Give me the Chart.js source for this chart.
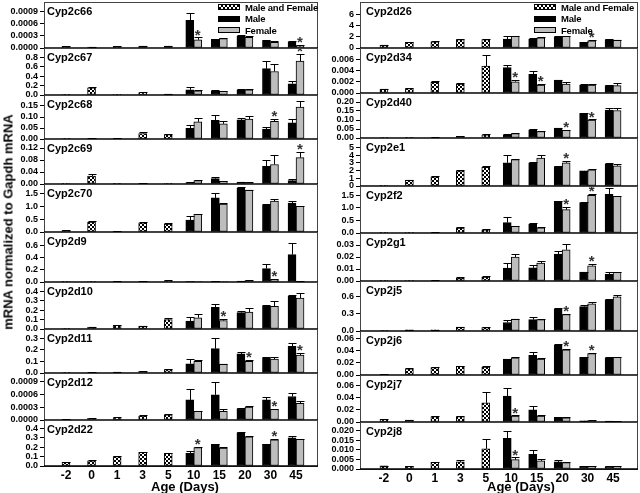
<!DOCTYPE html>
<html>
<head>
<meta charset="utf-8">
<script src="https://cdn.jsdelivr.net/npm/chart.js@4.4.0/dist/chart.umd.min.js"></script>
<style>
  body { margin: 0; background: #fff; font-family: "Liberation Sans", Arial, sans-serif; }
  #fig { position: relative; width: 640px; height: 493px; overflow: hidden; }
  #fig canvas { position: absolute; }
  .gene { position: absolute; font-weight: bold; font-size: 11px; line-height: 12px; white-space: nowrap; }
  .leg { position: absolute; font-weight: bold; font-size: 9.5px; line-height: 11px; letter-spacing: -0.2px; white-space: nowrap; }
  .patch { position: absolute; height: 4px; border: 1px solid #000; }
  .axisTitle { position: absolute; font-weight: bold; font-size: 13px; line-height: 15px; white-space: nowrap; }
</style>
</head>
<body>
<div id="fig"></div>
<script>
// Ages on the x axis; first five are pooled (male and female), last five split by sex
const ages = ['-2', '0', '1', '3', '5', '10', '15', '20', '30', '45'];

const genes = [
  'Cyp2c66', 'Cyp2c67', 'Cyp2c68', 'Cyp2c69', 'Cyp2c70', 'Cyp2d9', 'Cyp2d10', 'Cyp2d11', 'Cyp2d12', 'Cyp2d22',
  'Cyp2d26', 'Cyp2d34', 'Cyp2d40', 'Cyp2e1', 'Cyp2f2', 'Cyp2g1', 'Cyp2j5', 'Cyp2j6', 'Cyp2j7', 'Cyp2j8'
];

// y axis per panel: range, tick step, highest labelled tick, decimals
const yMax = [0.00113, 1.0, 0.2, 0.15, 1.87, 0.82, 0.5, 0.38, 0.0011, 0.49,
  8.2, 0.008, 0.25, 6.2, 1.87, 0.04, 0.88, 0.072, 0.078, 0.0245];
const yStep = [0.0003, 0.2, 0.05, 0.04, 0.5, 0.2, 0.1, 0.1, 0.0003, 0.1,
  2, 0.002, 0.05, 1, 0.5, 0.01, 0.3, 0.02, 0.02, 0.005];
const yTop = [0.0009, 0.8, 0.15, 0.12, 1.5, 0.6, 0.4, 0.3, 0.0009, 0.4,
  6, 0.006, 0.2, 5, 1.5, 0.03, 0.6, 0.06, 0.06, 0.02];
const yDecimals = [4, 1, 2, 2, 1, 1, 1, 1, 4, 1,
  0, 3, 2, 0, 1, 2, 1, 2, 2, 3];

// ages -2, 0, 1, 3, 5
const pooledMean = [
  [0.00004, 0.00002, 0.00004, 0.00005, 0.00005],
  [0.003, 0.15, 0.005, 0.05, 0.02],
  [0.001, 0.003, 0.003, 0.025, 0.02],
  [0.0005, 0.026, 0.0005, 0.002, 0.001],
  [0.065, 0.39, 0.03, 0.36, 0.31],
  [0.002, 0.005, 0.01, 0.012, 0.02],
  [0.003, 0.02, 0.04, 0.03, 0.1],
  [0.001, 0.006, 0.008, 0.015, 0.03],
  [0.00001, 0.00004, 0.00005, 0.00009, 0.00012],
  [0.04, 0.055, 0.1, 0.145, 0.135],
  [0.5, 1.0, 1.1, 1.5, 1.5],
  [0.0007, 0.0008, 0.0019, 0.0016, 0.0048],
  [0.001, 0.002, 0.003, 0.009, 0.018],
  [0.02, 0.75, 1.2, 1.95, 2.4],
  [0.005, 0.01, 0.03, 0.2, 0.13],
  [0.0002, 0.0003, 0.0005, 0.0025, 0.0033],
  [0.005, 0.02, 0.02, 0.07, 0.06],
  [0.001, 0.01, 0.012, 0.014, 0.013],
  [0.0044, 0.003, 0.009, 0.009, 0.032],
  [0.0016, 0.0014, 0.0035, 0.0037, 0.0105]
];
const pooledErr = [
  [0.00001, 0.00001, 0.00001, 0.00001, 0.00001],
  [0.001, 0.02, 0.001, 0.01, 0.005],
  [0.0005, 0.001, 0.001, 0.005, 0.004],
  [0.0002, 0.008, 0.0002, 0.001, 0.0005],
  [0.01, 0.04, 0.01, 0.03, 0.03],
  [0.001, 0.002, 0.003, 0.003, 0.008],
  [0.001, 0.005, 0.005, 0.005, 0.012],
  [0.0005, 0.002, 0.002, 0.004, 0.005],
  [0.000003, 0.00001, 0.00001, 0.00003, 0.00002],
  [0.003, 0.004, 0.005, 0.006, 0.005],
  [0.05, 0.08, 0.08, 0.1, 0.1],
  [0.0001, 0.0001, 0.0002, 0.0002, 0.0019],
  [0.0003, 0.0005, 0.0005, 0.001, 0.002],
  [0.01, 0.05, 0.05, 0.08, 0.15],
  [0.002, 0.003, 0.005, 0.02, 0.015],
  [0.0001, 0.0001, 0.0001, 0.0007, 0.0007],
  [0.002, 0.004, 0.004, 0.008, 0.006],
  [0.0003, 0.001, 0.001, 0.001, 0.001],
  [0.0005, 0.0005, 0.001, 0.001, 0.017],
  [0.0002, 0.0002, 0.0003, 0.0012, 0.0053]
];

// ages 10, 15, 20, 30, 45
const maleMean = [
  [0.00068, 0.00021, 0.00029, 0.00018, 0.00015],
  [0.11, 0.09, 0.11, 0.56, 0.24],
  [0.048, 0.085, 0.087, 0.045, 0.073],
  [0.005, 0.018, 0.006, 0.059, 0.011],
  [0.46, 1.33, 1.7, 1.04, 1.13],
  [0.005, 0.01, 0.015, 0.22, 0.45],
  [0.085, 0.23, 0.175, 0.24, 0.35],
  [0.08, 0.21, 0.165, 0.13, 0.23],
  [0.00047, 0.00059, 0.00027, 0.00047, 0.00055],
  [0.135, 0.23, 0.355, 0.23, 0.3],
  [1.6, 1.6, 2.0, 1.0, 1.5],
  [0.0045, 0.0033, 0.0023, 0.0014, 0.0013],
  [0.018, 0.045, 0.055, 0.137, 0.155],
  [3.0, 3.0, 2.5, 1.95, 2.8],
  [0.41, 0.35, 1.26, 1.21, 1.54],
  [0.0107, 0.011, 0.0225, 0.0075, 0.0055],
  [0.15, 0.2, 0.39, 0.43, 0.55],
  [0.026, 0.032, 0.049, 0.029, 0.028],
  [0.043, 0.02, 0.0078, 0.002, 0.0015],
  [0.016, 0.0077, 0.0037, 0.0014, 0.0012]
];
const maleErr = [
  [0.00019, 0.00001, 0.00004, 0.00002, 0.00001],
  [0.05, 0.01, 0.01, 0.17, 0.06],
  [0.015, 0.023, 0.01, 0.009, 0.017],
  [0.001, 0.004, 0.001, 0.022, 0.005],
  [0.15, 0.17, 0.04, 0.04, 0.07],
  [0.002, 0.002, 0.003, 0.07, 0.19],
  [0.045, 0.04, 0.015, 0.02, 0.01],
  [0.04, 0.09, 0.015, 0.012, 0.025],
  [0.00025, 0.00031, 0.00002, 0.00008, 0.00009],
  [0.03, 0.004, 0.005, 0.004, 0.02],
  [0.5, 0.1, 0.1, 0.05, 0.05],
  [0.0004, 0.0007, 0.0001, 0.0002, 0.0001],
  [0.002, 0.004, 0.002, 0.003, 0.01],
  [1.0, 0.05, 0.05, 0.05, 0.15],
  [0.22, 0.03, 0.03, 0.02, 0.24],
  [0.0043, 0.002, 0.0025, 0.0004, 0.002],
  [0.05, 0.05, 0.01, 0.03, 0.01],
  [0.001, 0.005, 0.001, 0.001, 0.001],
  [0.014, 0.006, 0.001, 0.0003, 0.0003],
  [0.004, 0.0021, 0.0009, 0.0002, 0.0002]
];
const femaleMean = [
  [0.0002, 0.00023, 0.00026, 0.00014, 0.00006],
  [0.09, 0.08, 0.11, 0.5, 0.72],
  [0.078, 0.069, 0.091, 0.08, 0.145],
  [0.011, 0.009, 0.005, 0.065, 0.088],
  [0.69, 1.09, 1.63, 1.2, 1.0],
  [0.004, 0.006, 0.025, 0.04, 0.01],
  [0.12, 0.09, 0.18, 0.24, 0.33],
  [0.1, 0.077, 0.1, 0.12, 0.155],
  [0.0002, 0.0002, 0.0003, 0.00025, 0.00039],
  [0.195, 0.19, 0.31, 0.28, 0.285],
  [2.1, 1.8, 2.1, 1.3, 1.4],
  [0.002, 0.0014, 0.0016, 0.0014, 0.0013],
  [0.024, 0.036, 0.042, 0.1, 0.153],
  [3.4, 3.6, 3.0, 2.1, 2.6],
  [0.27, 0.21, 0.93, 1.5, 1.46],
  [0.02, 0.015, 0.026, 0.0127, 0.0072],
  [0.21, 0.2, 0.29, 0.48, 0.6],
  [0.028, 0.026, 0.041, 0.035, 0.029],
  [0.01, 0.01, 0.007, 0.0025, 0.001],
  [0.0049, 0.0042, 0.0033, 0.0014, 0.0014]
];
const femaleErr = [
  [0.00006, 0.00001, 0.00004, 0.00004, 0.00002],
  [0.02, 0.01, 0.02, 0.17, 0.16],
  [0.016, 0.011, 0.014, 0.01, 0.03],
  [0.002, 0.001, 0.001, 0.03, 0.019],
  [0.02, 0.04, 0.02, 0.08, 0.02],
  [0.001, 0.001, 0.003, 0.005, 0.002],
  [0.04, 0.02, 0.04, 0.06, 0.05],
  [0.012, 0.004, 0.012, 0.015, 0.015],
  [0.00001, 0.00006, 0.00002, 0.00001, 0.00005],
  [0.004, 0.015, 0.005, 0.004, 0.004],
  [0.08, 0.08, 0.08, 0.1, 0.08],
  [0.0004, 0.0002, 0.0004, 0.0002, 0.0004],
  [0.002, 0.002, 0.003, 0.003, 0.012],
  [0.1, 0.4, 0.2, 0.1, 0.2],
  [0.02, 0.02, 0.11, 0.07, 0.03],
  [0.0025, 0.0015, 0.005, 0.0018, 0.0004],
  [0.01, 0.01, 0.01, 0.03, 0.04],
  [0.001, 0.002, 0.001, 0.001, 0.001],
  [0.001, 0.001, 0.0007, 0.0003, 0.0002],
  [0.0011, 0.0012, 0.0003, 0.0002, 0.0002]
];
// female bars marked with * (index into 10, 15, 20, 30, 45)
const femaleStars = [
  [0, 4], [4], [3], [4], [], [3], [1], [2, 4], [3], [0, 3],
  [3], [0, 1], [2, 3], [2], [2, 3], [3], [2], [2, 3], [0], [0]
];

// layout of the two columns of panels
const columns = [
  { left: 0, width: 320, xMin: -0.86, xMax: 9.86, labelDx: 3, titleX: 185,
    bottoms: [48, 95, 139, 184, 232, 282, 329, 373, 420, 466] },
  { left: 316, width: 324, xMin: -0.94, xMax: 9.98, labelDx: 6, titleX: 521,
    bottoms: [48, 93, 138, 186, 233, 281, 331, 375, 422, 469] }
];
const AXIS_W = 44, PAD_T = 14, PAD_B = 8, X_AXIS_H = 22;
const FEMALE_GRAY = '#bdbdbd';

Chart.defaults.font.family = '"Liberation Sans", Arial, sans-serif';
Chart.defaults.color = '#000';

const fig = document.getElementById('fig');

// small checker tile for the pooled bars
const tile = document.createElement('canvas');
tile.width = 4; tile.height = 4;
const tg = tile.getContext('2d');
tg.fillStyle = '#fff'; tg.fillRect(0, 0, 4, 4);
tg.fillStyle = '#000'; tg.fillRect(0, 0, 2, 2); tg.fillRect(2, 2, 2, 2);

// upper error bars from dataset.errors
const errorBars = {
  id: 'errorBars',
  afterDatasetsDraw(chart) {
    const ctx = chart.ctx, y = chart.scales.y;
    ctx.save();
    ctx.strokeStyle = '#000';
    ctx.lineWidth = 1;
    chart.data.datasets.forEach((ds, di) => {
      chart.getDatasetMeta(di).data.forEach((bar, i) => {
        const v = ds.data[i].y;
        if (v === null) return;
        const top = Math.round(y.getPixelForValue(v + ds.errors[i])) + 0.5;
        const x = Math.round(bar.x) + 0.5;
        ctx.beginPath();
        ctx.moveTo(x, bar.y);
        ctx.lineTo(x, top);
        ctx.moveTo(x - 4, top);
        ctx.lineTo(x + 4, top);
        ctx.stroke();
      });
    });
    ctx.restore();
  }
};

// asterisks above significant female bars
const stars = {
  id: 'stars',
  afterDatasetsDraw(chart, args, opts) {
    const ctx = chart.ctx, y = chart.scales.y;
    const ds = chart.data.datasets[2];
    const meta = chart.getDatasetMeta(2);
    ctx.save();
    ctx.fillStyle = '#333';
    ctx.font = 'bold 15px "Liberation Sans", Arial, sans-serif';
    ctx.textAlign = 'center';
    ctx.textBaseline = 'middle';
    (opts.indices || []).forEach(k => {
      const i = k + 5;
      const top = y.getPixelForValue(ds.data[i].y + ds.errors[i]);
      ctx.fillText('*', meta.data[i].x, top - 2);
    });
    ctx.restore();
  }
};

// box around each panel, heavier baseline
const panelFrame = {
  id: 'panelFrame',
  afterDraw(chart) {
    const { ctx, chartArea: a } = chart;
    ctx.save();
    ctx.strokeStyle = '#444';
    ctx.lineWidth = 1;
    ctx.strokeRect(a.left + 0.5, a.top + 0.5, a.right - a.left - 1, a.bottom - a.top);
    ctx.strokeStyle = '#000';
    ctx.lineWidth = 1.5;
    ctx.beginPath();
    ctx.moveTo(a.left, a.bottom);
    ctx.lineTo(a.right, a.bottom);
    ctx.stroke();
    ctx.restore();
  }
};

function addDiv(cls, text, left, top) {
  const d = document.createElement('div');
  d.className = cls;
  d.textContent = text;
  d.style.left = left + 'px';
  d.style.top = top + 'px';
  fig.appendChild(d);
  return d;
}

genes.forEach((gene, p) => {
  const col = columns[Math.floor(p / 10)];
  const row = p % 10;
  const top = row === 0 ? 2 : col.bottoms[row - 1];
  const bottom = col.bottoms[row];
  const isLast = row === 9;

  const cv = document.createElement('canvas');
  cv.width = col.width;
  cv.height = bottom - top + PAD_T + (isLast ? X_AXIS_H : PAD_B);
  cv.style.left = col.left + 'px';
  cv.style.top = (top - PAD_T) + 'px';
  fig.appendChild(cv);

  const pattern = cv.getContext('2d').createPattern(tile, 'repeat');
  const pooled = ages.map((a, i) => ({ x: i, y: i < 5 ? pooledMean[p][i] : null }));
  const male = ages.map((a, i) => ({ x: i, y: i >= 5 ? maleMean[p][i - 5] : null }));
  const female = ages.map((a, i) => ({ x: i, y: i >= 5 ? femaleMean[p][i - 5] : null }));
  const pad5 = [0, 0, 0, 0, 0];

  const common = { borderColor: '#000', borderWidth: 1, borderSkipped: false, barThickness: 8, skipNull: true };
  const nTicks = Math.round(yTop[p] / yStep[p]);

  new Chart(cv, {
    type: 'bar',
    data: {
      datasets: [
        { label: 'Male and Female', data: pooled, errors: pooledErr[p].concat(pad5), backgroundColor: pattern, ...common },
        { label: 'Male', data: male, errors: pad5.concat(maleErr[p]), backgroundColor: '#000', ...common },
        { label: 'Female', data: female, errors: pad5.concat(femaleErr[p]), backgroundColor: FEMALE_GRAY, ...common }
      ]
    },
    options: {
      responsive: false,
      animation: false,
      devicePixelRatio: 1,
      layout: { padding: { top: PAD_T, bottom: isLast ? 0 : PAD_B, left: 0, right: 2 } },
      plugins: {
        legend: { display: false },
        tooltip: { enabled: false },
        stars: { indices: femaleStars[p] }
      },
      scales: {
        x: {
          type: 'linear',
          display: isLast,
          offset: false,
          min: col.xMin,
          max: col.xMax,
          grid: { display: false, drawTicks: false },
          border: { display: false },
          afterBuildTicks: s => { s.ticks = ages.map((a, i) => ({ value: i })); },
          afterFit: s => { if (isLast) s.height = X_AXIS_H; },
          ticks: {
            autoSkip: false,
            maxRotation: 0,
            padding: 2,
            font: { size: 12, weight: 'bold' },
            callback: v => ages[v]
          }
        },
        y: {
          min: 0,
          max: yMax[p],
          afterBuildTicks: s => {
            s.ticks = [];
            for (let k = 0; k <= nTicks; k++) s.ticks.push({ value: k * yStep[p] });
          },
          afterFit: s => { s.width = AXIS_W; },
          grid: { display: true, drawOnChartArea: false, drawTicks: true, tickLength: 4, color: '#000' },
          border: { display: true, color: '#000', width: 1 },
          ticks: {
            autoSkip: false,
            padding: 2,
            font: { size: 9, weight: 'bold' },
            callback: v => v.toFixed(yDecimals[p])
          }
        }
      }
    },
    plugins: [errorBars, stars, panelFrame]
  });

  const areaLeft = col.left + AXIS_W;
  addDiv('gene', gene, areaLeft + col.labelDx, top + 3);

  if (row === 0) {
    const legendItems = [
      { text: 'Male and Female', bg: 'repeating-conic-gradient(#000 0 25%, #fff 0 50%) 0 0 / 4px 4px' },
      { text: 'Male', bg: '#000' },
      { text: 'Female', bg: FEMALE_GRAY }
    ];
    legendItems.forEach((it, k) => {
      const cy = top + 5 + k * 11.5;
      const patch = document.createElement('div');
      patch.className = 'patch';
      patch.style.left = (areaLeft + 174) + 'px';
      patch.style.top = (cy - 3) + 'px';
      patch.style.width = '20px';
      patch.style.background = it.bg;
      fig.appendChild(patch);
      addDiv('leg', it.text, areaLeft + 201, cy - 5.5);
    });
  }

  if (isLast) {
    const t = addDiv('axisTitle', 'Age (Days)', col.titleX, 479);
    t.style.transform = 'translateX(-50%)';
  }
});

const yTitle = addDiv('axisTitle', 'mRNA normalized to Gapdh mRNA', 8, 222);
yTitle.style.transform = 'translate(-50%, -50%) rotate(-90deg)';
</script>
</body>
</html>
